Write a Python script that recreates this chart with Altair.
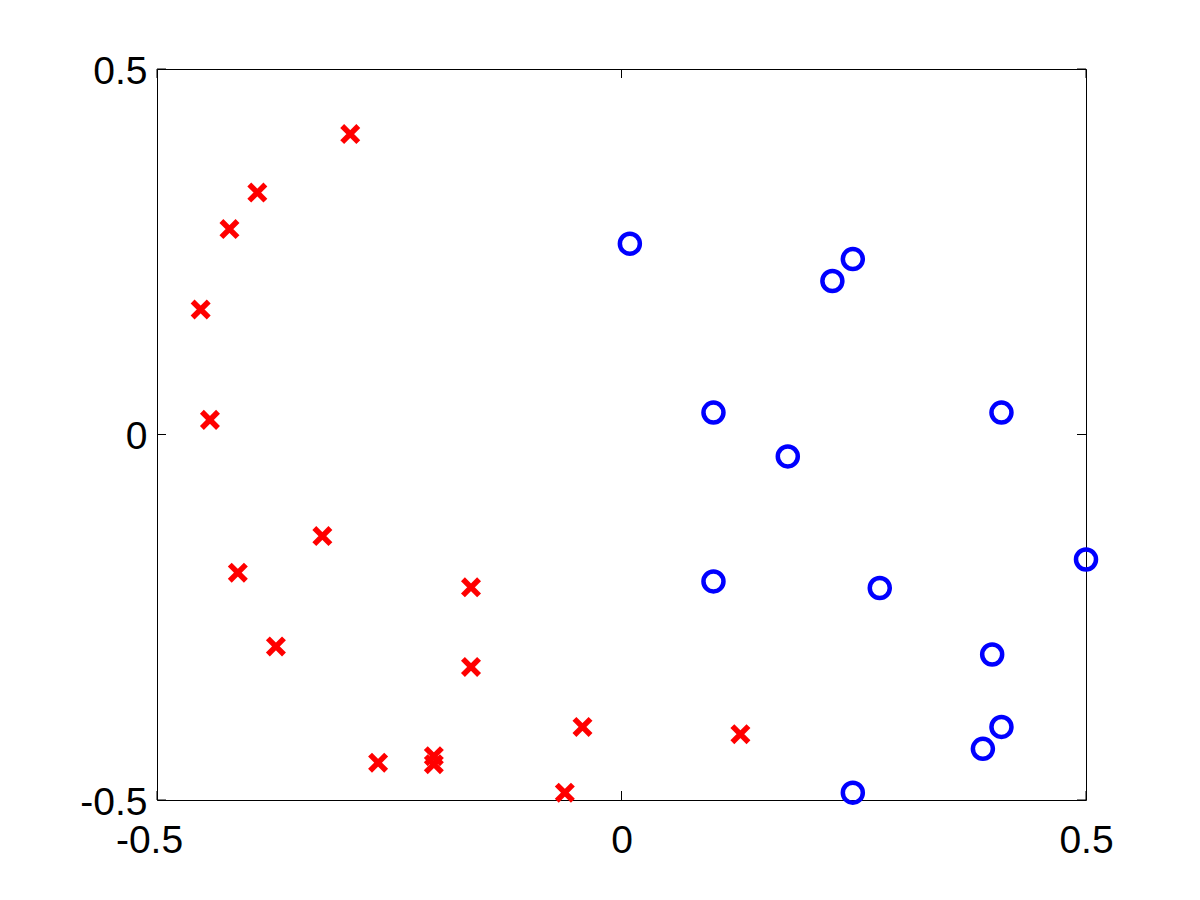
import altair as alt
import pandas as pd

red_x = [-0.292, -0.392, -0.422, -0.453, -0.443, -0.322, -0.413, -0.162, -0.372,
         -0.162, -0.042, 0.128, -0.262, -0.202, -0.202, -0.061]
red_y = [0.411, 0.331, 0.281, 0.171, 0.020, -0.139, -0.189, -0.209, -0.290,
         -0.318, -0.400, -0.410, -0.449, -0.440, -0.451, -0.490]

blue_x = [0.009, 0.249, 0.227, 0.099, 0.409, 0.179, 0.500, 0.099, 0.278,
          0.399, 0.409, 0.389, 0.249]
blue_y = [0.261, 0.240, 0.210, 0.030, 0.030, -0.030, -0.171, -0.201, -0.210,
          -0.301, -0.400, -0.430, -0.490]

tick_values = [-0.5, 0, 0.5]

W, H = 929, 731
TL = 9

red = pd.DataFrame({"x": red_x, "y": red_y})
blue = pd.DataFrame({"x": blue_x, "y": blue_y})
ticks = pd.DataFrame({"t": tick_values})

xs = alt.Scale(domain=[-0.5, 0.5], nice=False, zero=False)
ys = alt.Scale(domain=[-0.5, 0.5], nice=False, zero=False)

label_expr = "(datum.value < 0 ? '-' : '') + abs(datum.value)"

x_axis = alt.Axis(values=tick_values, labelExpr=label_expr, labelFontSize=39,
                  labelFont="Liberation Sans", labelColor="black", ticks=False,
                  domain=False, grid=False, labelPadding=21, labelFlush=False,
                  labelOverlap=False, title=None,
                  labelOffset={"condition": {"test": "datum.value < 0", "value": -8},
                               "value": 0})
y_axis = alt.Axis(values=tick_values, labelExpr=label_expr, labelFontSize=39,
                  labelFont="Liberation Sans", labelColor="black", ticks=False,
                  domain=False, grid=False, labelPadding=10, labelFlush=False,
                  labelOverlap=False, title=None, labelOffset=2)

X = alt.X("x:Q", scale=xs, axis=x_axis)
Y = alt.Y("y:Q", scale=ys, axis=y_axis)

cross_path = "M-1,-1L1,1M-1,1L1,-1"

red_layer = alt.Chart(red).mark_point(
    shape=cross_path, filled=False, stroke="#ff0000", strokeWidth=5.5,
    size=260, opacity=1
).encode(x=X, y=Y)

blue_layer = alt.Chart(blue).mark_point(
    shape="circle", filled=False, stroke="#0000ff", strokeWidth=4.5,
    size=400, opacity=1
).encode(x=X, y=Y)

TX = alt.X("t:Q", scale=xs, axis=x_axis)
TY = alt.Y("t:Q", scale=ys, axis=y_axis)

tick_bottom = alt.Chart(ticks).mark_rule(color="black", strokeWidth=1).encode(
    x=TX, y=alt.value(H), y2=alt.value(H - TL))
tick_top = alt.Chart(ticks).mark_rule(color="black", strokeWidth=1).encode(
    x=TX, y=alt.value(0), y2=alt.value(TL))
tick_left = alt.Chart(ticks).mark_rule(color="black", strokeWidth=1).encode(
    y=TY, x=alt.value(0), x2=alt.value(TL))
tick_right = alt.Chart(ticks).mark_rule(color="black", strokeWidth=1).encode(
    y=TY, x=alt.value(W), x2=alt.value(W - TL))

chart = alt.layer(
    tick_bottom, tick_top, tick_left, tick_right, blue_layer, red_layer
).properties(
    width=W, height=H,
    autosize=alt.AutoSizeParams(type="none"),
    padding={"left": 149, "top": 61, "right": 100, "bottom": 80},
    background="white",
).configure_view(stroke="black", strokeWidth=1)

chart.save("out.html", embed_options={"renderer": "svg", "actions": False})
